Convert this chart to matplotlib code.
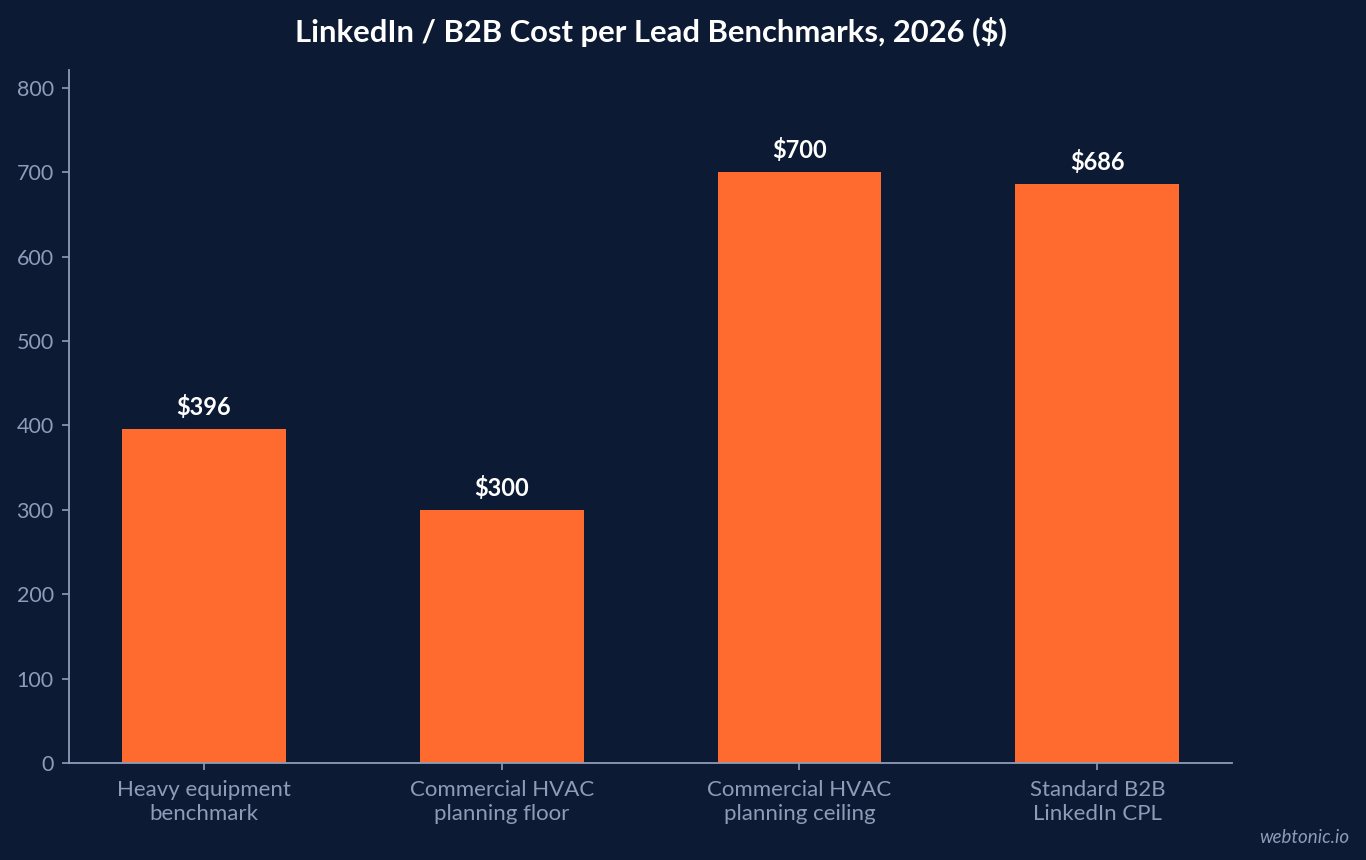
import matplotlib
matplotlib.use('Agg')
from matplotlib import pyplot as plt

BG = '#0c1b33'
BAR = '#ff6b2f'
MUTED = '#8d9cb8'

categories = [
    'Heavy equipment\nbenchmark',
    'Commercial HVAC\nplanning floor',
    'Commercial HVAC\nplanning ceiling',
    'Standard B2B\nLinkedIn CPL',
]
values = [396, 300, 700, 686]
value_labels = ['$396', '$300', '$700', '$686']
y_ticks = [0, 100, 200, 300, 400, 500, 600, 700, 800]

plt.rcParams['font.family'] = ['Lato', 'DejaVu Sans']

fig = plt.figure(figsize=(13.66, 8.6), dpi=100, facecolor=BG)
ax = fig.add_axes([0.0505, 0.1128, 0.8515, 0.8058])
ax.set_facecolor(BG)

x = range(len(categories))
bars = ax.bar(x, values, width=0.55, color=BAR, zorder=2)

for rect, label in zip(bars, value_labels):
    ax.annotate(label, (rect.get_x() + rect.get_width() / 2, rect.get_height()),
                xytext=(0, 7), textcoords='offset points', ha='center', va='bottom',
                color='white', fontsize=17, fontweight='bold')

ax.set_ylim(0, 821)
ax.set_yticks(y_ticks)
ax.set_xticks(list(x))
ax.set_xticklabels(categories, linespacing=1.25)

for side in ['top', 'right']:
    ax.spines[side].set_visible(False)
for side in ['left', 'bottom']:
    ax.spines[side].set_color(MUTED)
    ax.spines[side].set_linewidth(1.3)

ax.tick_params(axis='both', colors=MUTED, labelcolor=MUTED, length=5, width=1.2)
ax.tick_params(axis='y', labelsize=15.5, pad=6)
ax.tick_params(axis='x', labelsize=16, pad=7.5)

ax.set_title('LinkedIn / B2B Cost per Lead Benchmarks, 2026 ($)', color='white',
             fontsize=22.3, fontweight='bold', pad=20)

fig.text(0.988, 0.016, 'webtonic.io', color=MUTED, fontsize=13.5, style='italic',
         ha='right', va='bottom')

fig.savefig('out.png', facecolor=BG)
